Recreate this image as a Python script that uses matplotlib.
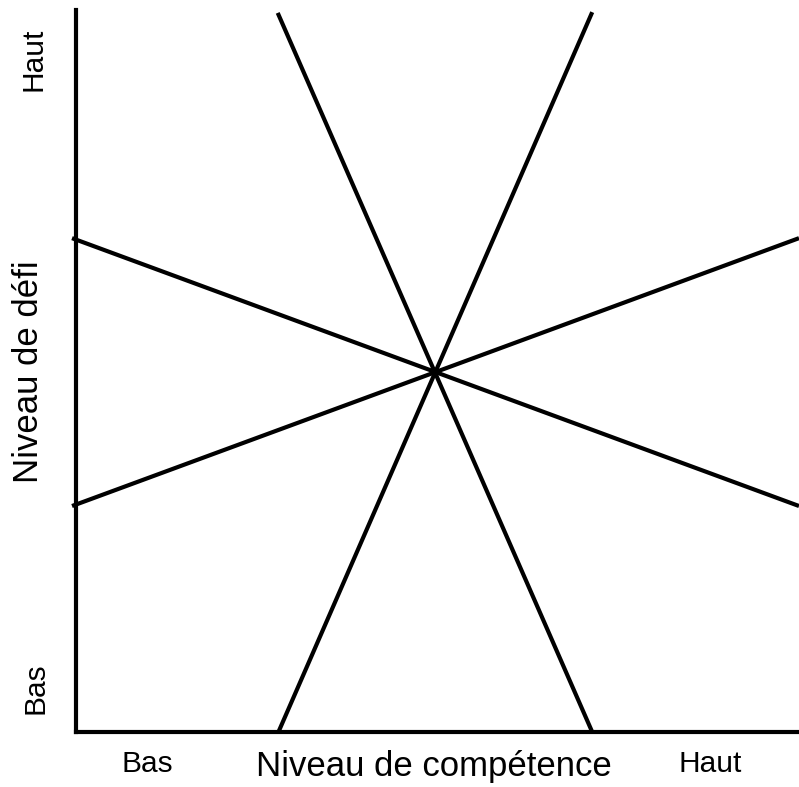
import matplotlib
matplotlib.use("Agg")
import matplotlib.pyplot as plt

W, H = 799, 787

# Data (axis units 0..10)
line_starts_x = [-0.055, -0.055, 2.79, 7.14]
line_starts_y = [6.84, 3.13, 9.96, 9.97]
line_ends_x = [10.0, 10.0, 7.14, 2.80]
line_ends_y = [3.13, 6.84, 0.0, 0.0]

x_label = "Niveau de compétence"
y_label = "Niveau de défi"
low_label = "Bas"
high_label = "Haut"

fig = plt.figure(figsize=(W / 100, H / 100), dpi=100)
ax = fig.add_axes([76 / W, (H - 732) / H, 1 - 76 / W, (732 - 10) / H])
ax.set_xlim(0, 10)
ax.set_ylim(0, 10)
for s in ["top", "right"]:
    ax.spines[s].set_visible(False)
for s in ["left", "bottom"]:
    ax.spines[s].set_linewidth(3.0)
    ax.spines[s].set_color("black")
    ax.spines[s].set_capstyle("projecting")
ax.set_xticks([])
ax.set_yticks([])

for x0, y0, x1, y1 in zip(line_starts_x, line_starts_y, line_ends_x, line_ends_y):
    ax.plot([x0, x1], [y0, y1], color="black", lw=3.0,
            solid_capstyle="butt", clip_on=False)

def px(x, y):
    return x / W, 1 - y / H

font = "Liberation Sans"
small = 21.5
big = 25

fig.text(*px(147, 772), low_label, ha="center", va="baseline",
         fontsize=small, family=font)
fig.text(*px(710, 772), high_label, ha="center", va="baseline",
         fontsize=small, family=font)
fig.text(*px(434, 776), x_label, ha="center", va="baseline",
         fontsize=big, family=font)

fig.text(*px(43, 688), low_label, ha="center", va="baseline", rotation=90,
         rotation_mode="anchor", fontsize=small, family=font)
fig.text(*px(42, 59), high_label, ha="center", va="baseline", rotation=90,
         rotation_mode="anchor", fontsize=small, family=font)
fig.text(*px(38, 372), y_label, ha="center", va="baseline", rotation=90,
         rotation_mode="anchor", fontsize=big, family=font)

fig.savefig("out.png", dpi=100)
